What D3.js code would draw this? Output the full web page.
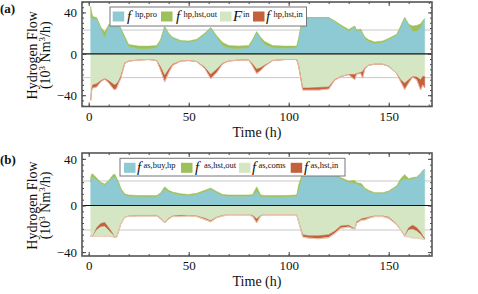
<!DOCTYPE html>
<html>
<head>
<meta charset="utf-8">
<script src="https://cdn.jsdelivr.net/npm/d3@7"></script>
<style>
body { margin: 0; background: #fff; }
text { font-family: "Liberation Serif", "DejaVu Serif", serif; fill: #111; }
</style>
</head>
<body>
<script>
// time points (h)
var hours = [1, 1.5, 2, 4, 6, 8, 10, 12, 13, 14, 15, 16, 18, 20, 25, 30, 34, 36, 38, 40,
  42, 46, 50, 54, 58, 61, 64, 67, 70, 75, 80, 82, 84, 86, 88, 92, 98, 104, 105, 107,
  110, 115, 120, 123, 126, 130, 133, 134, 136, 137, 138, 140, 143, 147, 150, 154, 156, 158, 160, 162,
  164, 166, 167, 168];

// panel (a)
var hpPro = [36, 35, 34, 34, 25, 16, 27, 31, 33, 31, 28, 24, 15, 7, 5, 5, 6, 13, 26, 19,
  15, 12, 11.5, 13, 19, 25, 16, 8, 5.5, 5, 6, 13, 21, 14, 9, 6, 5.5, 6, 14, 35,
  35, 35, 35, 31, 27, 22, 26, 22, 23, 19, 15, 12, 10, 11, 14, 18, 26, 35, 28, 22,
  22, 25, 31, 34];
var hpHstOut = [10, 5, 2, 1, 1, 5, 1, 1, 1, 1, 1, 1, 2, 2, 2.5, 2.5, 2, 1, 0.5, 1,
  1, 1, 1, 1, 1, 0.5, 1.5, 3, 2.5, 2.5, 2, 1, 0.5, 2, 3, 2, 2, 1.5, 1, 0,
  0, 0, 0, 1, 1, 1.5, 1, 1, 1, 1, 1.5, 1.5, 1.5, 1.5, 1, 1, 1, 0, 0.5, 5,
  5.5, 4, 1, 0];
var fIn = [45, 34, 30, 29, 26, 24, 26, 29, 30, 29, 26, 22, 9, 7, 6, 5.5, 6.5, 13, 21, 15,
  10, 7, 6.5, 7.5, 13, 20, 15, 9, 7, 6, 6, 10, 15, 13.5, 11, 6.5, 5.5, 5.5, 12, 33,
  33, 32.5, 32, 25, 22, 20, 20, 19, 18, 17, 14, 11, 10, 10, 12, 19, 25, 28.5, 25, 22,
  22.5, 25, 22, 22];
var hpHstIn = [0, 1, 3, 3, 1, 0.5, 2, 4, 5, 4, 2, 2, 0.5, 0, 0, 0, 0, 3, 6, 3,
  1, 0, 0, 0, 1, 4, 3, 0.5, 0, 0, 0, 2, 4, 2.5, 1, 0, 0, 0, 0, 2,
  2, 2.5, 2, 0.5, 0, 0, 5, 0.5, 1, 6.5, 1, 0, 0, 0, 0, 0, 2, 6, 3, 0.5,
  2.5, 10, 8, 11];

// panel (b)
var asBuyHp = [20, 24, 24.5, 22, 19, 17.5, 20.5, 24, 24.5, 22, 19, 14, 9, 8, 7.5, 7.5, 7.5, 10, 14, 12,
  10.5, 9, 8.5, 9.5, 12, 14, 11, 8.5, 8, 8, 8, 8.5, 12, 7.5, 7.5, 7.5, 7.5, 8, 14, 26,
  29, 29, 29, 27, 23, 20, 19, 18.5, 17, 16, 14, 12, 10.5, 10.5, 12, 16, 21, 23, 22, 23,
  24, 27, 29.5, 31];
var asHstOut = [4, 3, 2.5, 1.5, 1, 1, 1, 2, 2.5, 1.5, 1, 1, 1, 1, 1, 1, 1, 1, 2, 1,
  1, 1, 1, 1, 1, 1, 1, 1, 1, 1, 1, 1, 4, 1.5, 1, 1, 1, 1, 4, 2,
  0, 0, 0, 1, 1, 1, 2.5, 1, 2, 1.5, 1, 1, 0.5, 0.5, 0.5, 1, 2, 3.5, 1, 1,
  0.5, 0.5, 0.5, 0];
var asComs = [26.5, 26.5, 26.5, 19, 15.5, 14.5, 19, 24, 27.5, 27, 22, 16, 10, 9, 8.5, 8.5, 8.5, 11, 14.5, 11,
  9, 8.5, 8.5, 9, 11, 13, 10, 8.5, 8, 8, 8, 8.5, 11.5, 8.5, 8, 8, 8, 8, 14, 25,
  26, 26, 25, 22, 17.5, 17, 20, 14, 12, 11, 11, 10, 9, 9, 10, 16, 21, 26, 19, 17,
  19, 23, 26, 28];
var asHstIn = [0, 0, 0, 2, 3, 3.5, 2.5, 1, 0, 0, 0, 0, 0, 0.3, 0.5, 0.5, 0.5, 0.5, 0.5, 0.5,
  0.5, 1, 0.5, 0.5, 1, 1, 0.5, 0.5, 0, 0, 0, 1, 3.5, 0.5, 0, 0, 0, 0, 0, 2,
  2, 2.5, 2.5, 2, 2, 1.5, 0.5, 1, 1, 1.5, 1.5, 1, 0.5, 0.5, 1, 0.5, 0, 0.5, 2, 3.5,
  3, 2, 1.5, 1];
var asComsLow = [0, 0, 0, 5.5, 8, 8.5, 5, 2, 0, 0, 0, 0, 0, 0, 0, 0, 0, 0, 0, 0,
  0, 0, 0, 0, 0, 0, 0, 0, 0, 0, 0, 0, 0, 0, 0, 0, 0, 0, 0, 0,
  0, 0, 0, 0, 0, 0, 0, 0, 0, 0, 0, 0, 0, 0, 0, 0, 0, 0, 6, 7.5,
  6, 3.5, 1.5, 0];

var xTicks = [0, 50, 100, 150];
var yTicks = [-40, 0, 40];

var colBlue = "#8ecad3", colGreen = "#9cc05c", colLight = "#d5e6c5", colRed = "#c5603d";

var svg = d3.select("body").append("svg")
    .attr("width", 478)
    .attr("height", 294);

// gemeinsame X Skala
var x = d3.scaleLinear().domain([-3.35, 171.65]).range([82, 432]);

function panel(p) {
  var g = svg.append("g");
  var y = d3.scaleLinear().domain(p.yDomain).range([p.bottom, p.top]);

  var rows = hours.map(function (h, i) {
    var r = { t: h };
    p.pos.forEach(function (s) { r[s.key] = s.values[i]; });
    p.neg.forEach(function (s) { r[s.key] = s.values[i]; });
    return r;
  });

  var clipId = "clip" + p.name;
  svg.append("clipPath").attr("id", clipId).append("rect")
      .attr("x", 82).attr("y", p.top).attr("width", 350).attr("height", p.bottom - p.top);

  // grid
  p.grid.forEach(function (v) {
    g.append("line").attr("x1", 82).attr("x2", 432).attr("y1", y(v)).attr("y2", y(v))
      .attr("stroke", "#c8c8c8").attr("stroke-width", 1);
  });

  var plot = g.append("g").attr("clip-path", "url(#" + clipId + ")");

  var posStack = d3.stack().keys(p.pos.map(function (s) { return s.key; }))(rows);
  var negStack = d3.stack().keys(p.neg.map(function (s) { return s.key; }))(rows);

  var areaUp = d3.area()
      .x(function (d) { return x(d.data.t); })
      .y0(function (d) { return y(d[0]); })
      .y1(function (d) { return y(d[1]); });
  var areaDown = d3.area()
      .x(function (d) { return x(d.data.t); })
      .y0(function (d) { return y(-d[0]); })
      .y1(function (d) { return y(-d[1]); });

  posStack.forEach(function (layer, i) {
    plot.append("path").datum(layer).attr("d", areaUp)
      .attr("fill", p.pos[i].color).attr("stroke", p.pos[i].color).attr("stroke-width", 0.5);
  });
  negStack.forEach(function (layer, i) {
    plot.append("path").datum(layer).attr("d", areaDown)
      .attr("fill", p.neg[i].color).attr("stroke", p.neg[i].color).attr("stroke-width", 0.5);
  });

  // Randlinie unten
  plot.append("path").datum(negStack[negStack.length - 1])
      .attr("d", d3.line().x(function (d) { return x(d.data.t); }).y(function (d) { return y(-d[1]); }))
      .attr("fill", "none").attr("stroke", "#f2c3ae").attr("stroke-width", 0.8);

  // Nulllinie
  g.append("line").attr("x1", 82).attr("x2", 432).attr("y1", y(0)).attr("y2", y(0))
    .attr("stroke", "#111").attr("stroke-width", 1.2);

  // Achsen
  var minorX = d3.range(0, 171, 10);
  var bottomAx = g.append("g").attr("transform", "translate(0," + p.bottom + ")")
      .call(d3.axisBottom(x).tickValues(xTicks).tickSize(-4).tickPadding(5).tickFormat(d3.format("d")));
  var bottomMinor = g.append("g").attr("transform", "translate(0," + p.bottom + ")")
      .call(d3.axisBottom(x).tickValues(minorX).tickSize(-2).tickFormat(""));
  var topAx = g.append("g").attr("transform", "translate(0," + p.top + ")")
      .call(d3.axisTop(x).tickValues(xTicks).tickSize(-4).tickFormat(""));
  var topMinor = g.append("g").attr("transform", "translate(0," + p.top + ")")
      .call(d3.axisTop(x).tickValues(minorX).tickSize(-2).tickFormat(""));

  var minorY = d3.range(-50, 51, 5).filter(function (v) { return v > p.yDomain[0] && v < p.yDomain[1]; });
  var leftAx = g.append("g").attr("transform", "translate(82,0)")
      .call(d3.axisLeft(y).tickValues(yTicks).tickSize(-4).tickPadding(5).tickFormat(d3.format("d")));
  var leftMinor = g.append("g").attr("transform", "translate(82,0)")
      .call(d3.axisLeft(y).tickValues(minorY).tickSize(-2).tickFormat(""));
  var rightAx = g.append("g").attr("transform", "translate(432,0)")
      .call(d3.axisRight(y).tickValues(yTicks).tickSize(-4).tickFormat(""));
  var rightMinor = g.append("g").attr("transform", "translate(432,0)")
      .call(d3.axisRight(y).tickValues(minorY).tickSize(-2).tickFormat(""));

  [bottomAx, bottomMinor, topAx, topMinor, leftAx, leftMinor, rightAx, rightMinor].forEach(function (a) {
    a.select(".domain").remove();
    a.selectAll(".tick line").attr("stroke", "#444");
    a.selectAll("text").attr("font-size", 13).attr("font-family", "Liberation Serif").attr("fill", "#111");
  });

  // Rahmen
  g.append("rect").attr("x", 82).attr("y", p.top).attr("width", 350).attr("height", p.bottom - p.top)
    .attr("fill", "none").attr("stroke", "#555").attr("stroke-width", 1.6);

  // Achsentitel
  g.append("text").attr("x", 257).attr("y", p.bottom + 30).attr("text-anchor", "middle")
    .attr("font-size", 14).text("Time (h)");
  var cy = (p.top + p.bottom) / 2 + 1;
  var yt = g.append("text").attr("transform", "translate(37," + cy + ") rotate(-90)")
    .attr("text-anchor", "middle").attr("font-size", 14);
  yt.text("Hydrogen Flow");
  var yt2 = g.append("text").attr("transform", "translate(50," + cy + ") rotate(-90)")
    .attr("text-anchor", "middle").attr("font-size", 14);
  yt2.append("tspan").text("(10");
  yt2.append("tspan").attr("font-size", 9).attr("dy", -5).text("3");
  yt2.append("tspan").attr("dy", 5).text(" Nm");
  yt2.append("tspan").attr("font-size", 9).attr("dy", -5).text("3");
  yt2.append("tspan").attr("dy", 5).text("/h)");

  // Panel Label
  g.append("text").attr("x", 0).attr("y", p.top + 11).attr("font-size", 13)
    .attr("font-weight", "bold").text(p.label);

  // Legende
  var L = p.legend;
  var lg = g.append("g");
  lg.append("rect").attr("x", L.x).attr("y", L.y).attr("width", L.w).attr("height", L.h)
    .attr("fill", "#fff").attr("stroke", "#777").attr("stroke-width", 1);
  L.items.forEach(function (it) {
    lg.append("rect").attr("x", it.x).attr("y", L.y + 4.5).attr("width", 11.5).attr("height", 10)
      .attr("fill", it.color);
    lg.append("text").attr("x", it.fx).attr("y", L.y + 14).attr("font-size", 15)
      .attr("font-style", "italic").text(it.sym);
    lg.append("text").attr("x", it.sx).attr("y", L.y + 9.5).attr("font-size", 8.5).text(it.sup);
  });
}

panel({
  name: "a", label: "(a)", top: 2, bottom: 106.5, yDomain: [-50.9, 50.1],
  grid: [-23, 23],
  pos: [{ key: "pro", values: hpPro, color: colBlue }, { key: "out", values: hpHstOut, color: colGreen }],
  neg: [{ key: "inF", values: fIn, color: colLight }, { key: "hin", values: hpHstIn, color: colRed }],
  legend: { x: 110, y: 7, w: 196.5, h: 19, items: [
    { x: 112.7, fx: 127, sx: 135, color: colBlue, sym: "f", sup: "hp,pro" },
    { x: 161, fx: 176, sx: 183.5, color: colGreen, sym: "f", sup: "hp,hst,out" },
    { x: 220, fx: 233, sx: 243, color: colLight, sym: "F", sup: "in" },
    { x: 253, fx: 266, sx: 273.5, color: colRed, sym: "f", sup: "hp,hst,in" }
  ] }
});

panel({
  name: "b", label: "(b)", top: 153, bottom: 256, yDomain: [-43.3, 45],
  grid: [-21, 21],
  pos: [{ key: "buy", values: asBuyHp, color: colBlue }, { key: "out", values: asHstOut, color: colGreen }],
  neg: [{ key: "coms", values: asComs, color: colLight }, { key: "hin", values: asHstIn, color: colRed },
        { key: "coms2", values: asComsLow, color: colLight }],
  legend: { x: 120, y: 158.3, w: 225, h: 17.7, items: [
    { x: 124, fx: 137, sx: 143.5, color: colBlue, sym: "f", sup: "as,buy,hp" },
    { x: 181, fx: 195, sx: 204, color: colGreen, sym: "f", sup: "as,hst,out" },
    { x: 239, fx: 252, sx: 258.5, color: colLight, sym: "f", sup: "as,coms" },
    { x: 290.7, fx: 304, sx: 310.5, color: colRed, sym: "f", sup: "as,hst,in" }
  ] }
});
</script>
</body>
</html>
